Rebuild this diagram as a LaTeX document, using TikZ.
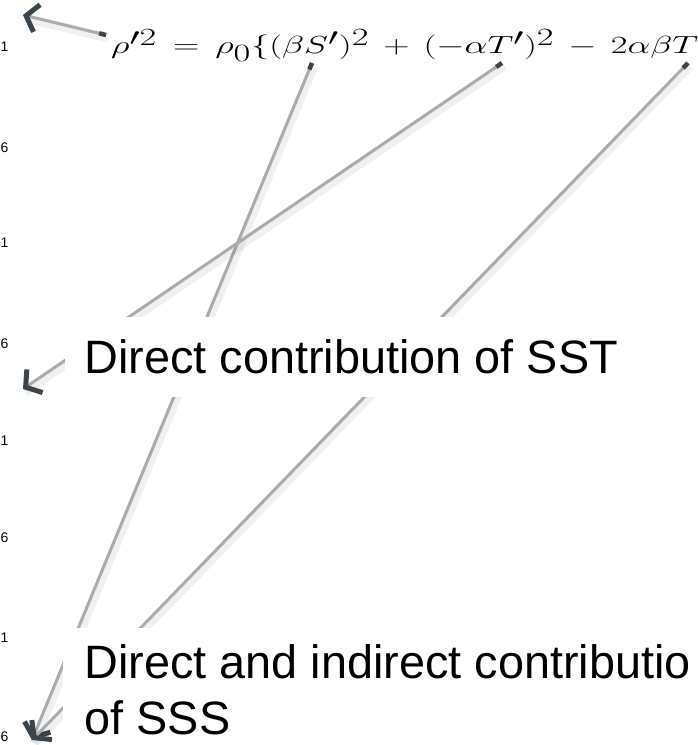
\documentclass[tikz,border=0pt]{standalone}
\usepackage{fontspec}
\usepackage{amsmath}
\usepackage{graphicx}
\usetikzlibrary{arrows.meta}
\newfontfamily\arialfont{Liberation Sans}
\definecolor{tipgray}{HTML}{3B444B}
\definecolor{linegray}{HTML}{ABABAB}

\begin{document}
\begin{tikzpicture}[x=1bp, y=-1bp,
    conn/.style={draw=linegray, line width=3bp,
      {Rectangle[length=7bp, width=4.5bp, color=tipgray]}-{Straight Barb[length=11bp, width=28bp, line width=5bp, color=tipgray]}},
    glow/.style={draw=black, opacity=0.06, line width=9bp},
    boxtext/.style={fill=white, font=\arialfont\fontsize{47}{57}\selectfont, align=left},
    edgedigit/.style={font=\arialfont\fontsize{14}{14}\selectfont, inner sep=0pt, anchor=base west}]
    \useasboundingbox (0,0) rectangle (698,745);

    % Tick digits on the left edge
    \foreach \y/\d in {52/1, 152/6, 247/1, 348/6, 445/1, 542/6, 642/1, 741/6} {
        \node[edgedigit] (d\y) at (0.5,\y) {\d};
    }

    % Equation
    \node[anchor=base west, inner sep=0pt, font=\fontsize{37}{42}\selectfont] (eq) at (111,54)
        {\resizebox{587bp}{\height}{\medmuskip=7mu \thickmuskip=8mu
        $\rho'^{2} = \rho_0\{(\beta S')^2 + (-\alpha T')^2 - 2\alpha\beta T$}};
    \coordinate (rhoL) at (106,35);
    \coordinate (underS) at (312,63);
    \coordinate (underT) at (502,63);
    \coordinate (underTend) at (688,63);

    % Arrow ends
    \coordinate (tipTL) at (23,15);
    \coordinate (tipSST) at (23,389);
    \coordinate (tipSSS) at (32,740);

    % Connectors
    \foreach \a/\b in {rhoL/tipTL, underS/tipSSS, underT/tipSST, underTend/tipSSS} {
        \draw[glow] ([shift={(2,3)}]\a) -- ([shift={(2,3)}]\b);
        \draw[conn] (\a) -- (\b);
    }

    % Labels over the lines
    \node[boxtext, anchor=north west, minimum height=80, inner xsep=19.5] (sst) at (65,317)
        {Direct contribution of SST};
    \node[boxtext, anchor=north west, inner xsep=21.5, inner ysep=16] (sss) at (63,628)
        {Direct and indirect contributio\\of SSS};
\end{tikzpicture}
\end{document}
